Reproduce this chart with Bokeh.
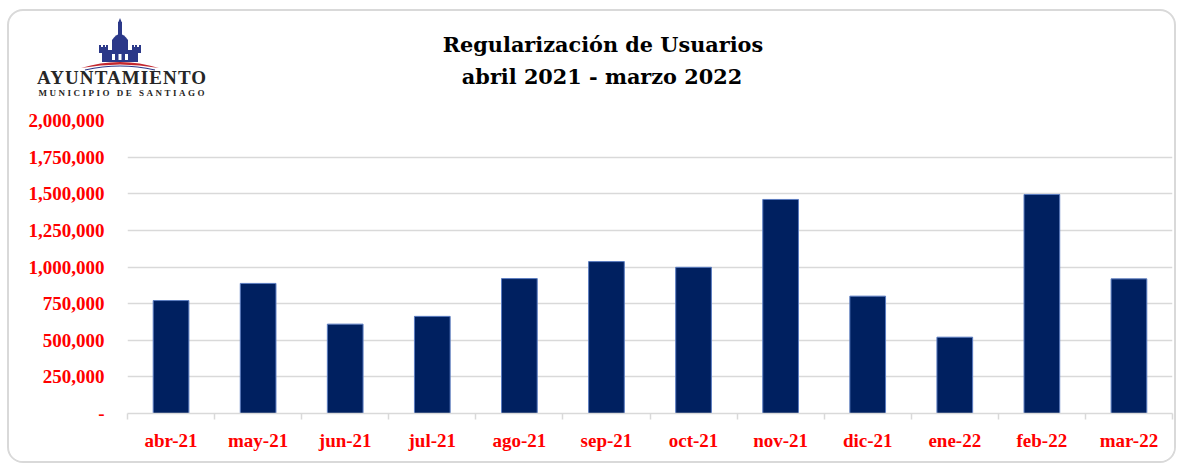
from bokeh.plotting import figure
from bokeh.models import Range1d, FixedTicker, CustomJSTickFormatter, ColumnDataSource, Div
from bokeh.layouts import column
from bokeh.embed import file_html
from bokeh.resources import INLINE

months = ["abr-21", "may-21", "jun-21", "jul-21", "ago-21", "sep-21",
          "oct-21", "nov-21", "dic-21", "ene-22", "feb-22", "mar-22"]
usuarios = [771000, 888000, 610000, 663000, 921000, 1037000,
            998000, 1461000, 801000, 521000, 1495000, 919000]
y_ticks = [0, 250000, 500000, 750000, 1000000, 1250000, 1500000, 1750000, 2000000]
title_lines = ["Regularización de Usuarios", "abril 2021 - marzo 2022"]
logo_lines = ["AYUNTAMIENTO", "MUNICIPIO DE SANTIAGO"]

INNER_W = 1165
HEAD_H = 95
FIG_H = 355

# ---------- header (title + logo) ----------
header_html = f"""
<div style="position:relative;width:{INNER_W}px;height:{HEAD_H}px;">
  <svg width="90" height="56" viewBox="0 0 90 56" style="position:absolute;left:66px;top:7px;">
    <polygon points="45,0 43,5 47,5" fill="#2b3889"/>
    <rect x="43" y="4" width="4" height="13" fill="#2b3889"/>
    <path d="M37 34 L37 22 Q45 10 53 22 L53 34 Z" fill="#2b3889"/>
    <rect x="27" y="32" width="36" height="12" fill="#2b3889"/>
    <rect x="24" y="29" width="9" height="6" fill="#2b3889"/>
    <rect x="57" y="29" width="9" height="6" fill="#2b3889"/>
    <rect x="24" y="27" width="2" height="3" fill="#2b3889"/>
    <rect x="28" y="27" width="2" height="3" fill="#2b3889"/>
    <rect x="31" y="27" width="2" height="3" fill="#2b3889"/>
    <rect x="57" y="27" width="2" height="3" fill="#2b3889"/>
    <rect x="60" y="27" width="2" height="3" fill="#2b3889"/>
    <rect x="64" y="27" width="2" height="3" fill="#2b3889"/>
    <rect x="37" y="36" width="3" height="6" fill="#ffffff"/>
    <rect x="43.5" y="36" width="3" height="6" fill="#ffffff"/>
    <rect x="50" y="36" width="3" height="6" fill="#ffffff"/>
    <path d="M6 50 Q45 38 84 50 Q45 43 6 50 Z" fill="#c3272e"/>
    <path d="M10 52 Q45 44 80 52" stroke="#2b3889" stroke-width="1.2" fill="none"/>
  </svg>
  <div style="position:absolute;left:27px;top:61px;width:168px;text-align:center;
              font-family:'Liberation Serif';font-weight:bold;font-size:19px;line-height:12px;
              color:#262626;white-space:nowrap;"><span
       style="letter-spacing:1.1px;padding-left:1.1px;">{logo_lines[0]}</span><br><span
       style="font-size:9px;letter-spacing:2.5px;padding-left:2.5px;">{logo_lines[1]}</span></div>
  <div style="position:absolute;left:594px;top:20px;transform:translateX(-50%);
              font-family:'DejaVu Serif';font-weight:bold;font-size:20.8px;line-height:28px;
              color:#000;white-space:nowrap;">{title_lines[0]}</div>
  <div style="position:absolute;left:593px;top:52px;transform:translateX(-50%);
              font-family:'DejaVu Serif';font-weight:bold;font-size:20.8px;line-height:28px;
              color:#000;white-space:nowrap;">{title_lines[1]}</div>
</div>
"""
header = Div(text=header_html, width=INNER_W, height=HEAD_H, margin=0)

# ---------- chart ----------
p = figure(width=INNER_W, height=FIG_H, output_backend="svg", toolbar_location=None,
           x_range=Range1d(0, len(months)), y_range=Range1d(0, 2000000),
           min_border_left=118, min_border_right=2, min_border_top=14,
           min_border_bottom=48, margin=0)
p.outline_line_color = None
p.background_fill_color = "white"
p.border_fill_color = "white"

src = ColumnDataSource(dict(x=[i + 0.5 for i in range(len(months))], top=usuarios))
p.vbar(x="x", top="top", bottom=0, width=0.41, source=src,
       fill_color="#002060", line_color="#5b7cc0", line_width=1)

# y axis
p.yaxis.ticker = FixedTicker(ticks=y_ticks)
p.yaxis.formatter = CustomJSTickFormatter(code="""
  if (tick == 0) { return '-'; }
  return Math.round(tick).toString().replace(/\\B(?=(\\d{3})+(?!\\d))/g, ',');
""")
p.yaxis.axis_line_color = None
p.yaxis.major_tick_line_color = None
p.yaxis.major_tick_out = 0
p.yaxis.minor_tick_line_color = None
p.yaxis.major_label_text_color = "#ff0000"
p.yaxis.major_label_text_font = "Liberation Serif"
p.yaxis.major_label_text_font_style = "bold"
p.yaxis.major_label_text_font_size = "19px"
p.yaxis.major_label_standoff = 23

p.ygrid.ticker = FixedTicker(ticks=y_ticks)
p.ygrid.grid_line_color = "#d9d9d9"
p.ygrid.grid_line_width = 1.5
p.xgrid.grid_line_color = None

# x axis
centers = [i + 0.5 for i in range(len(months))]
p.xaxis.ticker = FixedTicker(ticks=centers, minor_ticks=list(range(len(months) + 1)))
p.xaxis.major_label_overrides = {c: m for c, m in zip(centers, months)}
p.xaxis.axis_line_color = "#d9d9d9"
p.xaxis.axis_line_width = 1.5
p.xaxis.major_tick_line_color = None
p.xaxis.major_tick_out = 0
p.xaxis.minor_tick_line_color = "#d9d9d9"
p.xaxis.minor_tick_line_width = 1.5
p.xaxis.minor_tick_in = 0
p.xaxis.minor_tick_out = 6
p.xaxis.major_label_text_color = "#ff0000"
p.xaxis.major_label_text_font = "Liberation Serif"
p.xaxis.major_label_text_font_style = "bold"
p.xaxis.major_label_text_font_size = "19px"
p.xaxis.major_label_standoff = 10

box = column(header, p, spacing=0,
             styles={"border": "2px solid #d9d9d9", "border-radius": "16px",
                     "background-color": "white", "overflow": "hidden"})
root = column(box, styles={"padding-left": "7px", "padding-top": "9px",
                           "background-color": "white"})

open("out.html", "w").write(file_html(root, INLINE))
